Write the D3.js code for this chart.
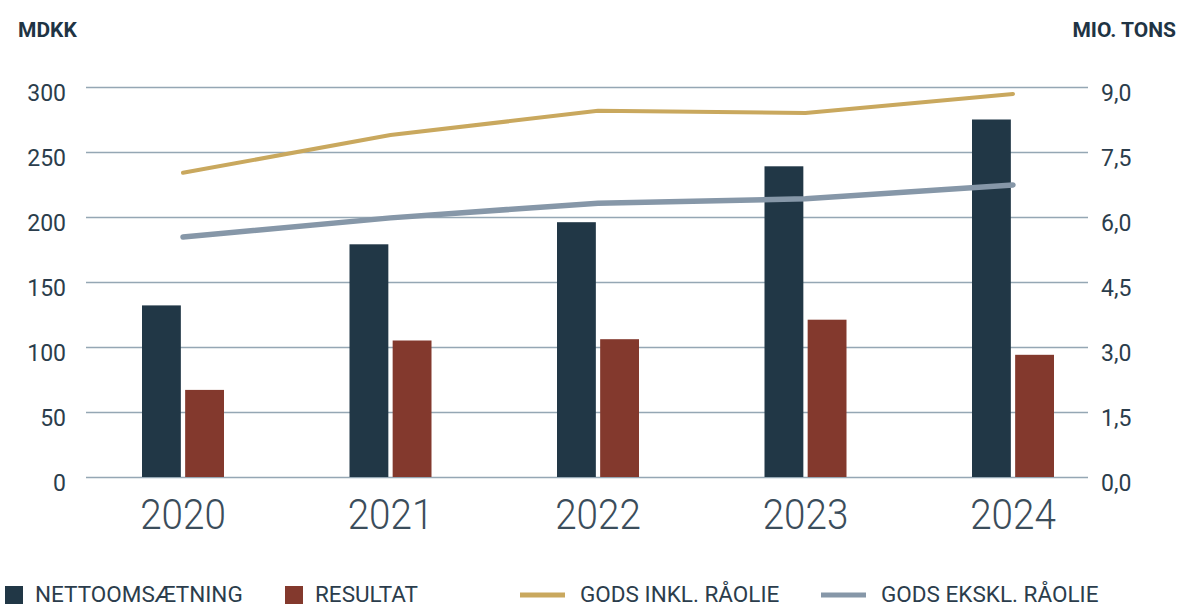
<!DOCTYPE html>
<html>
<head>
<meta charset="utf-8">
<script src="https://cdn.jsdelivr.net/npm/d3@7"></script>
<style>
body{margin:0;background:#fff;}
svg text{font-family:"Roboto",sans-serif;}
</style>
</head>
<body>
<div id="chart"></div>
<script>
const years=["2020","2021","2022","2023","2024"];
const nettoomsaetning=[132,179,196,239,275];
const resultat=[67,105,106,121,94];
const godsInkl=[7.02,7.89,8.45,8.40,8.84];
const godsEkskl=[5.54,5.98,6.32,6.42,6.74];
const leftTicks=[0,50,100,150,200,250,300];
const rightTicks=[0,1.5,3,4.5,6,7.5,9];

const w=1182,h=608;
const mLeft=86,mRight=1088,mTop=87,mBottom=477;
const textCol="#2b3d4c";

const svg=d3.select("#chart").append("svg").attr("width",w).attr("height",h);

const x=d3.scalePoint().domain(years).range([183,1013]);
const xs=d3.scaleBand().domain(["n","r"]).range([-41,41]).paddingInner(0.1);
const yL=d3.scaleLinear().domain([0,300]).range([mBottom,mTop]);
const yR=d3.scaleLinear().domain([0,9]).range([mBottom,mTop]);

// grid + left axis
const gl=svg.append("g").attr("transform",`translate(${mLeft},0)`)
  .call(d3.axisLeft(yL).tickValues(leftTicks).tickSize(-(mRight-mLeft)).tickPadding(20));
gl.select(".domain").remove();
gl.selectAll(".tick line").attr("stroke","#95a7b4").attr("stroke-width",1.5);
gl.selectAll(".tick text").attr("fill",textCol).attr("dy","0.6em").style("font-size","23px");

const gr=svg.append("g").attr("transform",`translate(${mRight},0)`)
  .call(d3.axisRight(yR).tickValues(rightTicks).tickSize(0).tickPadding(13)
    .tickFormat(d=>d3.format(".1f")(d).replace(".",",")));
gr.select(".domain").remove();
gr.selectAll(".tick text").attr("fill",textCol).attr("dy","0.6em").style("font-size","23px");

// x labels
svg.append("g").selectAll("text").data(years).enter().append("text")
  .attr("x",d=>x(d)).attr("y",529).attr("text-anchor","middle")
  .attr("fill","#3b4d5b").style("font-size","42px").style("font-weight","300")
  .attr("transform",d=>`translate(${x(d)},0) scale(0.92,1) translate(${-x(d)},0)`)
  .text(d=>d);

// bars
const bars=svg.append("g");
bars.selectAll(".n").data(years).enter().append("rect")
  .attr("x",d=>x(d)+xs("n")).attr("width",xs.bandwidth())
  .attr("y",(d,i)=>yL(nettoomsaetning[i])).attr("height",(d,i)=>mBottom-yL(nettoomsaetning[i]))
  .attr("fill","#213746");
bars.selectAll(".r").data(years).enter().append("rect")
  .attr("x",d=>x(d)+xs("r")).attr("width",xs.bandwidth())
  .attr("y",(d,i)=>yL(resultat[i])).attr("height",(d,i)=>mBottom-yL(resultat[i]))
  .attr("fill","#83392d");

// lines
const line=d3.line().x((d,i)=>x(years[i])).y(d=>yR(d));
svg.append("path").datum(godsInkl).attr("d",line).attr("fill","none")
  .attr("stroke","#c9a85e").attr("stroke-width",4).attr("stroke-linecap","round");
svg.append("path").datum(godsEkskl).attr("d",line).attr("fill","none")
  .attr("stroke","#8697a8").attr("stroke-width",5.5).attr("stroke-linecap","round");

// titles
svg.append("text").attr("x",18).attr("y",37).attr("fill","#1f3444")
  .style("font-size","21px").style("font-weight","bold").text("MDKK");
svg.append("text").attr("x",1176).attr("y",37).attr("text-anchor","end").attr("fill","#1f3444")
  .style("font-size","21px").style("font-weight","bold").text("MIO. TONS");

// legend
const lg=svg.append("g");
const ly=602;
lg.append("rect").attr("x",5).attr("y",586).attr("width",18).attr("height",18).attr("fill","#213746");
lg.append("text").attr("x",35).attr("y",ly).attr("fill",textCol).style("font-size","22.5px").text("NETTOOMSÆTNING");
lg.append("rect").attr("x",285).attr("y",586).attr("width",18).attr("height",18).attr("fill","#83392d");
lg.append("text").attr("x",315).attr("y",ly).attr("fill",textCol).style("font-size","22.5px").text("RESULTAT");
lg.append("line").attr("x1",520).attr("x2",565).attr("y1",595).attr("y2",595).attr("stroke","#c9a85e").attr("stroke-width",5);
lg.append("text").attr("x",580).attr("y",ly).attr("fill",textCol).style("font-size","22.5px").text("GODS INKL. RÅOLIE");
lg.append("line").attr("x1",821).attr("x2",866).attr("y1",595).attr("y2",595).attr("stroke","#8697a8").attr("stroke-width",5);
lg.append("text").attr("x",881).attr("y",ly).attr("fill",textCol).style("font-size","22.5px").text("GODS EKSKL. RÅOLIE");
</script>
</body>
</html>
